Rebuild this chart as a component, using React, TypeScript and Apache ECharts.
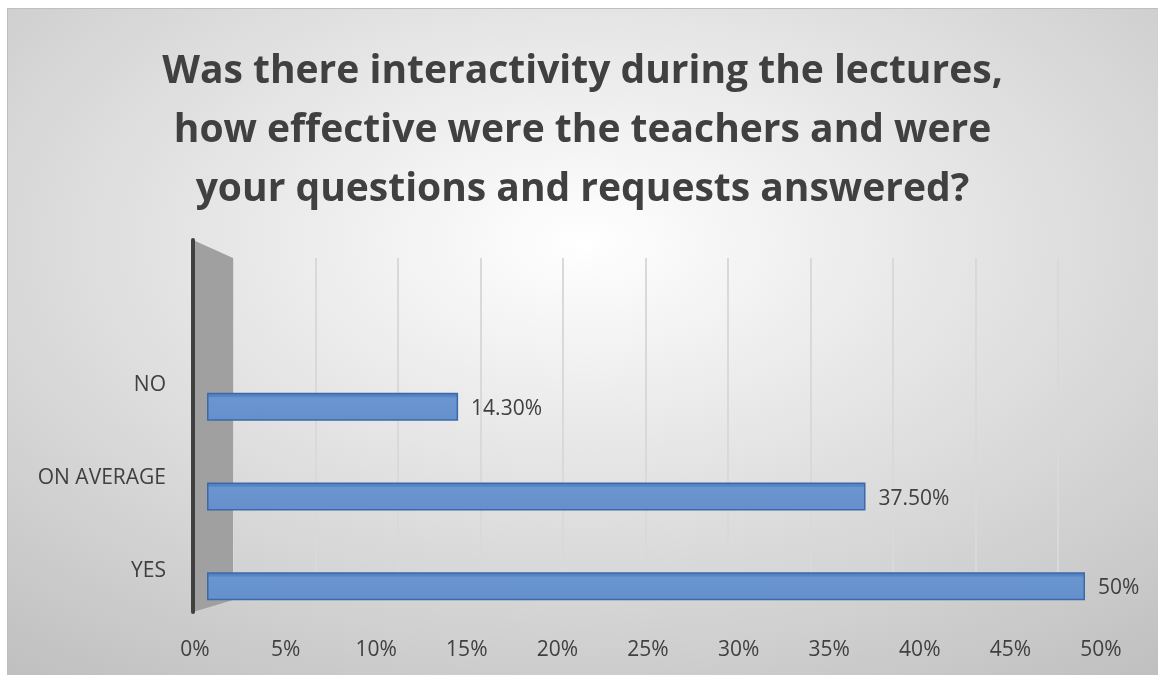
import React, { useEffect, useRef } from "react";
import * as echarts from "echarts";

const titleLines = [
  "Was there interactivity during the lectures,",
  "how effective were the teachers and were",
  "your questions and requests answered?",
];
const categories = ["YES", "ON AVERAGE", "NO"];
const values = [0.5, 0.375, 0.143];
const axisMin = 0;
const axisMax = 0.5;
const axisStep = 0.05;

const FONT = "'Open Sans', 'Noto Sans', sans-serif";
const TXT = "#404040";

function pct(v: number): string {
  const p = Math.round(v * 10000) / 100;
  return Number.isInteger(p) ? p + "%" : p.toFixed(2) + "%";
}

export default function App() {
  const ref = useRef<HTMLDivElement>(null);
  useEffect(() => {
    if (!ref.current) return;
    const chart = echarts.init(ref.current, null, { renderer: "svg" });
    chart.setOption({
      animation: false,
      backgroundColor: {
        type: "radial",
        x: 0.5,
        y: 0.35,
        r: 0.85,
        colorStops: [
          { offset: 0, color: "#ffffff" },
          { offset: 1, color: "#bdbdbd" },
        ],
      },
      title: {
        text: titleLines.join("\n"),
        left: "center",
        top: 25,
        textStyle: {
          fontFamily: FONT,
          fontSize: 39,
          fontWeight: "bold",
          color: TXT,
          lineHeight: 59,
        },
      },
      grid: [
        { left: 226, top: 250, width: 825, height: 342 },
        { left: 200, top: 354, width: 878, height: 269 },
        { left: 159, top: 329, width: 10, height: 278 },
        { left: 188, top: 600, width: 906, height: 25 },
      ],
      xAxis: [
        {
          gridIndex: 0, type: "value", min: axisMin, max: axisMax, interval: axisStep,
          axisLabel: { show: false }, axisLine: { show: false }, axisTick: { show: false },
          splitLine: { show: true, lineStyle: { color: "#d9d9d9", width: 2 } },
        },
        {
          gridIndex: 1, type: "value", min: axisMin, max: axisMax,
          axisLabel: { show: false }, axisLine: { show: false }, axisTick: { show: false },
          splitLine: { show: false },
        },
        {
          gridIndex: 2, type: "value", show: false,
        },
        {
          gridIndex: 3, type: "value", min: axisMin, max: axisMax, interval: axisStep,
          axisLine: { show: false }, axisTick: { show: false }, splitLine: { show: false },
          axisLabel: {
            margin: 4, fontFamily: FONT, fontSize: 21, color: TXT,
            formatter: (v: number) => pct(v),
          },
        },
      ],
      yAxis: [
        { gridIndex: 0, type: "category", data: categories, show: false },
        { gridIndex: 1, type: "category", data: categories, show: false },
        {
          gridIndex: 2, type: "category", data: categories,
          axisLine: { show: false }, axisTick: { show: false },
          axisLabel: { margin: 0, fontFamily: FONT, fontSize: 21, color: TXT },
        },
        { gridIndex: 3, type: "category", data: [""], show: false },
      ],
      graphic: [
        {
          type: "rect",
          shape: { x: 0.5, y: 0.5, width: 1160, height: 680 },
          style: { fill: "none", stroke: "#bfbfbf", lineWidth: 1 },
          silent: true,
        },
        {
          type: "polygon",
          shape: { points: [[186, 232], [226, 250], [226, 592], [186, 604]] },
          style: { fill: "#a0a0a0" },
          z: 10,
        },
        {
          type: "line",
          shape: { x1: 186, y1: 232, x2: 186, y2: 604 },
          style: { stroke: "#404040", lineWidth: 4, lineCap: "round" },
          z: 11,
        },
      ],
      series: [
        {
          type: "bar",
          xAxisIndex: 1,
          yAxisIndex: 1,
          data: values,
          barWidth: 28,
          z: 20,
          itemStyle: {
            color: {
              type: "linear", x: 0, y: 0, x2: 0, y2: 1,
              colorStops: [
                { offset: 0, color: "#4f7dbd" },
                { offset: 0.12, color: "#5a88c6" },
                { offset: 0.16, color: "#6a96d0" },
                { offset: 1, color: "#6590cb" },
              ],
            },
            borderColor: "#3b69aa",
            borderWidth: 1.5,
          },
          label: {
            show: true,
            position: "right",
            distance: 13,
            fontFamily: FONT,
            fontSize: 21,
            color: TXT,
            formatter: (p: any) => pct(p.value),
          },
        },
      ],
    });
    return () => chart.dispose();
  }, []);
  return (
    <div
      ref={ref}
      style={{ position: "fixed", left: 7, top: 8, width: 1151, height: 667 }}
    />
  );
}
